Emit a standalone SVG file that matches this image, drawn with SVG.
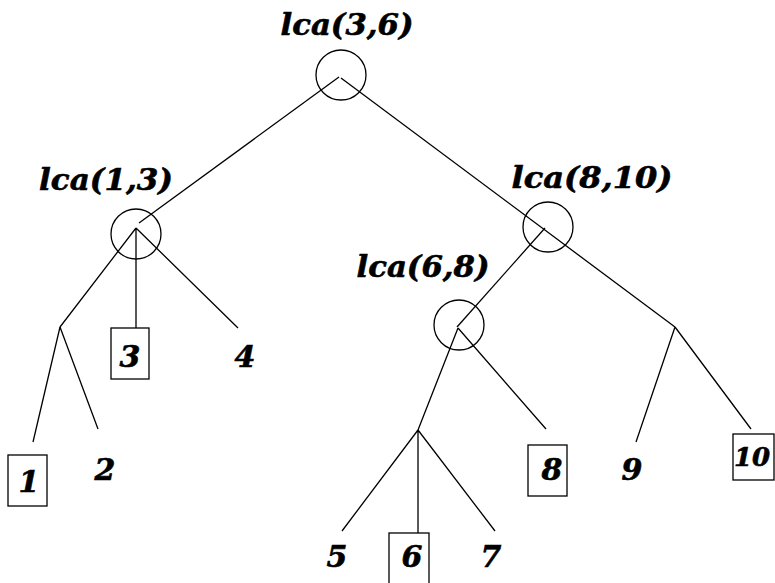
<svg xmlns="http://www.w3.org/2000/svg" width="775" height="583" viewBox="0 0 775 583">
<style>
.e{stroke:#000;stroke-width:1.3;fill:none}
.c{stroke:#000;stroke-width:1.3;fill:none}
.b{stroke:#000;stroke-width:1.3;fill:#fff}
text{font-family:"DejaVu Serif","Liberation Serif",serif;font-weight:bold;font-style:italic;font-size:30px;text-anchor:middle;fill:#000;stroke:#000;stroke-width:0.6}
</style>
<rect width="775" height="583" fill="#fff"/>
<g id="connectors">
<path class="e" d="M339,77 L139,223"/>
<path class="e" d="M341,78 L675,327"/>
<path class="e" d="M136,228 L60,327 M136,228 L136,328 M136,228 L238,328"/>
<path class="e" d="M60,327 L33,442 M60,327 L98,429"/>
<path class="e" d="M545,228 L457,327"/>
<path class="e" d="M458,328 L418,430 M458,328 L546,429"/>
<path class="e" d="M418,430 L342,531 M418,430 L418,533 M418,430 L495,531"/>
<path class="e" d="M675,327 L636,442 M675,327 L751,429"/>
</g>
<g id="n_lca36"><circle class="c" cx="341" cy="75" r="25"/><text x="347" y="35" textLength="133" lengthAdjust="spacingAndGlyphs">lca(3,6)</text></g>
<g id="n_lca13"><circle class="c" cx="136" cy="234" r="25"/><text x="106" y="190" textLength="134" lengthAdjust="spacingAndGlyphs">lca(1,3)</text></g>
<g id="n_lca810"><circle class="c" cx="548" cy="227" r="25"/><text x="592" y="188" textLength="161" lengthAdjust="spacingAndGlyphs">lca(8,10)</text></g>
<g id="n_lca68"><circle class="c" cx="459" cy="325" r="25"/><text x="423" y="277" textLength="133" lengthAdjust="spacingAndGlyphs">lca(6,8)</text></g>
<g id="n1"><rect class="b" x="8" y="455" width="39" height="51"/><text x="29" y="492">1</text></g>
<g id="n2"><text x="105" y="480">2</text></g>
<g id="n3"><rect class="b" x="111" y="328" width="38" height="51"/><text x="130" y="367">3</text></g>
<g id="n4"><text x="245" y="367">4</text></g>
<g id="n5"><text x="337" y="567">5</text></g>
<g id="n6"><rect class="b" x="389" y="533" width="40" height="55"/><text x="412" y="567">6</text></g>
<g id="n7"><text x="491" y="567">7</text></g>
<g id="n8"><rect class="b" x="528" y="445" width="39" height="51"/><text x="552" y="480">8</text></g>
<g id="n9"><text x="632" y="480">9</text></g>
<g id="n10"><rect class="b" x="733" y="434" width="41" height="46"/><text x="752" y="466" style="font-size:26px">10</text></g>
</svg>
